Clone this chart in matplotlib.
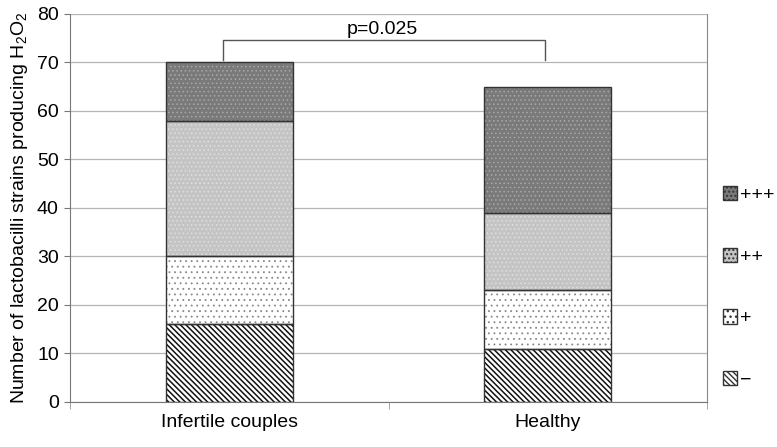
import matplotlib
matplotlib.use('Agg')
import matplotlib.pyplot as plt
from matplotlib.patches import Patch
import numpy as np

plt.rcParams['font.family'] = ['Liberation Sans', 'DejaVu Sans']

# data
groups = ['Infertile couples', 'Healthy']
levels = ['\u2212', '+', '++', '+++']
minus_vals = [16, 11]
plus_vals = [14, 12]
plus2_vals = [28, 16]
plus3_vals = [12, 26]
series = [minus_vals, plus_vals, plus2_vals, plus3_vals]
p_text = 'p=0.025'

# styles: (face, hatch, hatch colour, hatch linewidth)
styles = [
    ('white', '\\' * 6, '#111111', 1.1),
    ('white', '...', '#888888', 0.6),
    ('#c4c4c4', '....', '#e0e0e0', 0.6),
    ('#7a7a7a', '....', '#a8a8a8', 0.6),
]
fs = 14

fig = plt.figure(figsize=(7.77, 4.47), dpi=100)
ax = fig.add_axes([0.090, 0.1007, 0.820, 0.868])

x = np.array([0.5, 1.5])
bottom = np.zeros(len(groups))
for vals, (fc, hatch, hc, hlw) in zip(series, styles):
    with plt.rc_context({'hatch.linewidth': hlw}):
        ax.bar(x, vals, 0.4, bottom=bottom, color=fc, hatch=hatch,
               edgecolor=hc, linewidth=0, zorder=2)
    ax.bar(x, vals, 0.4, bottom=bottom, fill=False,
           edgecolor='#333333', linewidth=1.0, zorder=3)
    bottom += np.array(vals)

# significance bracket
ax.plot([0.48, 0.48, 1.49, 1.49], [70.6, 74.6, 74.6, 70.6],
        color='#555555', lw=1.0, zorder=4)
ax.text(0.98, 75.0, p_text, ha='center', va='bottom', fontsize=fs)

ax.set_xlim(0, 2)
ax.set_ylim(0, 80)
ax.set_yticks(range(0, 81, 10))
ax.tick_params(axis='y', labelsize=fs, length=4, color='#777777', pad=4)
ax.set_xticks([0.5, 1.5])
ax.set_xticklabels(groups, fontsize=fs)
ax.set_xticks([0, 1, 2], minor=True)
ax.tick_params(axis='x', which='major', length=0, pad=9)
ax.tick_params(axis='x', which='minor', length=5, color='#999999')
ax.yaxis.grid(True, color='#b5b5b5', lw=0.9, zorder=0)
ax.set_axisbelow(True)
for s in ['left', 'bottom']:
    ax.spines[s].set_color('#777777')
ax.spines['top'].set_visible(False)
ax.spines['right'].set_color('#888888')

ax.set_ylabel('Number of lactobacilli strains producing $\\mathregular{H_2O_2}$',
              fontsize=fs, labelpad=5)

handles = []
for lab, (fc, hatch, hc, hlw) in zip(levels, styles):
    with plt.rc_context({'hatch.linewidth': max(hlw, 0.8)}):
        handles.append(Patch(facecolor=fc, hatch=hatch, edgecolor='#333333', label=lab))
leg = ax.legend(handles[::-1], levels[::-1], loc='center left',
                bbox_to_anchor=(0.997, 0.295), frameon=False, fontsize=fs,
                labelspacing=2.25, handlelength=0.75, handleheight=0.75,
                handletextpad=0.15)

fig.savefig('out.png', dpi=100)
